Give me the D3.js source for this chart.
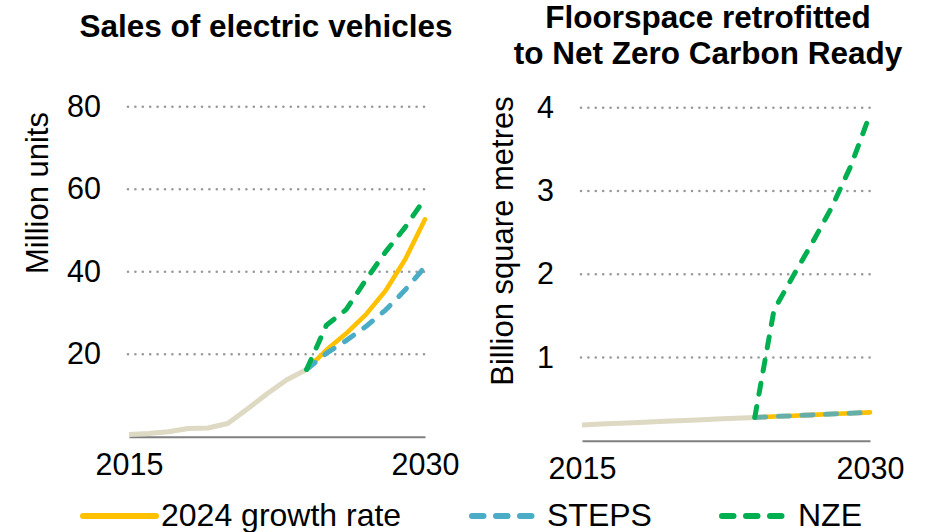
<!DOCTYPE html>
<html>
<head>
<meta charset="utf-8">
<script src="https://cdn.jsdelivr.net/npm/d3@7"></script>
<style>
  html, body { margin: 0; padding: 0; background: #fff; }
  svg { display: block; font-family: "Liberation Sans", Arial, sans-serif; }
</style>
</head>
<body>
<svg id="chart" width="935" height="532"></svg>
<script>
// ---- Data ----
const xTicks = [2015, 2030];
const histYears = [2015, 2016, 2017, 2018, 2019, 2020, 2021, 2022, 2023, 2024];
const projYears = [2024, 2025, 2026, 2027, 2028, 2029, 2030];

// Sales of electric vehicles (million units)
const evTicks = [20, 40, 60, 80];
const evHistory = [0.55, 0.8, 1.2, 2.0, 2.1, 3.2, 6.7, 10.4, 13.8, 16.3];
const evGrowth = [16.3, 21.0, 25.0, 29.6, 35.4, 43.0, 52.7];
const evSteps  = [16.3, 20.2, 23.3, 26.7, 30.7, 35.6, 41.2];
const evNze    = [16.3, 27.0, 30.8, 38.0, 44.8, 50.8, 57.8];

// Floorspace retrofitted to Net Zero Carbon Ready (billion m²)
const floorTicks = [1, 2, 3, 4];
const floorHistory = [0.19, 0.20, 0.21, 0.22, 0.23, 0.24, 0.25, 0.26, 0.27, 0.28];
const floorGrowth = [0.28, 0.29, 0.30, 0.31, 0.32, 0.33, 0.34];
const floorSteps  = [0.28, 0.29, 0.30, 0.31, 0.32, 0.33, 0.34];
const floorNze    = [0.28, 1.57, 1.98, 2.38, 2.80, 3.30, 3.92];

const legendLabels = ["2024 growth rate", "STEPS", "NZE"];

// ---- Styles ----
const COL = { hist: "#ddd9c3", growth: "#ffc000", steps: "#4bacc6", nze: "#00b050", grid: "#999999", axis: "#808080" };
const DASH = "11 12.6";
const FS = 31;

const svg = d3.select("#chart");

function drawPanel(p) {
  const x = d3.scaleLinear().domain([2015, 2030]).range(p.xRange);
  const y = d3.scaleLinear().domain(p.yDomain).range(p.yRange);
  const g = svg.append("g");

  // dotted gridlines
  g.append("g").selectAll("line").data(p.ticks).join("line")
    .attr("x1", x(2015) - 1).attr("x2", x(2030))
    .attr("y1", d => y(d)).attr("y2", d => y(d))
    .attr("stroke", COL.grid).attr("stroke-width", 2.6)
    .attr("stroke-linecap", "round").attr("stroke-dasharray", "0 7.4");

  // value labels
  const ya = g.append("g").attr("transform", `translate(${x(2015) - 1},0)`)
    .call(d3.axisLeft(y).tickValues(p.ticks).tickSize(0).tickPadding(27).tickFormat(d3.format("d")));
  ya.select(".domain").remove();
  ya.selectAll("text").attr("font-size", 30.5).attr("font-family", null).attr("fill", "#000");

  // baseline and year labels
  const xa = g.append("g").attr("transform", `translate(0,${y(0)})`)
    .call(d3.axisBottom(x).tickValues(xTicks).tickSize(0).tickSizeOuter(0).tickPadding(17).tickFormat(d3.format("d")));
  xa.select(".domain").attr("stroke", COL.axis).attr("stroke-width", 2);
  xa.selectAll("text").attr("font-size", 30.5).attr("font-family", null).attr("fill", "#000");

  // axis title
  g.append("text")
    .attr("transform", `translate(${p.yTitlePos[0]},${p.yTitlePos[1]}) rotate(-90)`)
    .attr("text-anchor", "middle").attr("font-size", FS).text(p.yTitle);

  // chart title
  p.title.forEach((t, i) => {
    g.append("text").attr("x", p.titleX).attr("y", p.titleY[i])
      .attr("text-anchor", "middle").attr("font-size", 31.5).attr("font-weight", "bold").text(t);
  });

  const line = d3.line().x(d => x(d[0])).y(d => y(d[1]));
  const pairs = (ys, vs) => ys.map((yr, i) => [yr, vs[i]]);

  g.append("path").datum(pairs(histYears, p.history)).attr("d", line)
    .attr("fill", "none").attr("stroke", COL.hist).attr("stroke-width", 5).attr("stroke-linejoin", "round");
  g.append("path").datum(pairs(projYears, p.growth)).attr("d", line)
    .attr("fill", "none").attr("stroke", COL.growth).attr("stroke-width", 4.6)
    .attr("stroke-linejoin", "round").attr("stroke-linecap", "round");
  g.append("path").datum(pairs(projYears, p.steps)).attr("d", line)
    .attr("fill", "none").attr("stroke", COL.steps).attr("stroke-width", 5)
    .attr("stroke-opacity", p.stepsOpacity)
    .attr("stroke-dasharray", DASH).attr("stroke-linecap", "round").attr("stroke-linejoin", "round");
  g.append("path").datum(pairs(projYears, p.nze)).attr("d", line)
    .attr("fill", "none").attr("stroke", COL.nze).attr("stroke-width", 5)
    .attr("stroke-dasharray", DASH).attr("stroke-linecap", "round").attr("stroke-linejoin", "round");
}

drawPanel({
  xRange: [129, 425], yDomain: [0, 80], yRange: [436.7, 106.7], ticks: evTicks,
  history: evHistory, growth: evGrowth, steps: evSteps, nze: evNze, stepsOpacity: 1,
  yTitle: "Million units", yTitlePos: [47.5, 193],
  title: ["Sales of electric vehicles"], titleX: 266, titleY: [37]
});

drawPanel({
  xRange: [582, 870], yDomain: [0, 4], yRange: [440.7, 107.7], ticks: floorTicks,
  history: floorHistory, growth: floorGrowth, steps: floorSteps, nze: floorNze, stepsOpacity: 0.85,
  yTitle: "Billion square metres", yTitlePos: [512.5, 241],
  title: ["Floorspace retrofitted", "to Net Zero Carbon Ready"], titleX: 708, titleY: [28, 64]
});

// ---- Legend ----
const legend = svg.append("g");
const legendItems = [
  { label: legendLabels[0], color: COL.growth, dash: null, x1: 83, x2: 156, tx: 161 },
  { label: legendLabels[1], color: COL.steps, dash: "11.5 12.5", x1: 472, x2: 532, tx: 547 },
  { label: legendLabels[2], color: COL.nze, dash: "11.5 12.5", x1: 722, x2: 782, tx: 798 }
];
legendItems.forEach(it => {
  legend.append("line").attr("x1", it.x1).attr("x2", it.x2).attr("y1", 516).attr("y2", 516)
    .attr("stroke", it.color).attr("stroke-width", 6).attr("stroke-linecap", "round")
    .attr("stroke-dasharray", it.dash);
  legend.append("text").attr("x", it.tx).attr("y", 526).attr("font-size", 32).text(it.label);
});
</script>
</body>
</html>
